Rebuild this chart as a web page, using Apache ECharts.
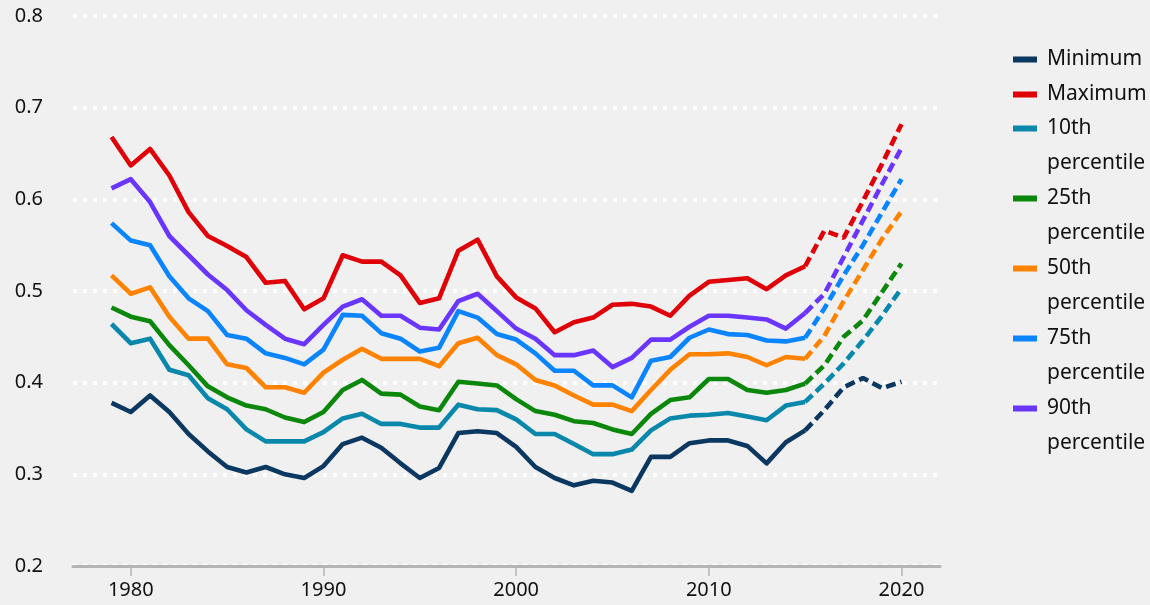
<!DOCTYPE html>
<html>
<head>
<meta charset="utf-8">
<script src="https://cdn.jsdelivr.net/npm/echarts@6/dist/echarts.min.js"></script>
<style>
  html, body { margin: 0; padding: 0; background: #f0f0f0; }
  #chart { width: 1150px; height: 605px; }
</style>
</head>
<body>
<div id="chart"></div>
<script>
const years = [];
for (let y = 1979; y <= 2020; y++) years.push(y);
const projectionStart = 2015;
const xTickYears = [1980, 1990, 2000, 2010, 2020];
const yTicks = [0.2, 0.3, 0.4, 0.5, 0.6, 0.7, 0.8];

const minimum = [0.378,0.368,0.386,0.368,0.344,0.325,0.308,0.302,0.308,0.300,
  0.296,0.309,0.333,0.340,0.329,0.312,0.296,0.307,0.345,0.347,
  0.345,0.330,0.308,0.296,0.288,0.293,0.291,0.282,0.319,0.319,
  0.334,0.337,0.337,0.331,0.312,0.335,0.348,0.370,0.395,0.405,
  0.394,0.401];
const maximum = [0.668,0.637,0.655,0.626,0.586,0.560,0.549,0.537,0.509,0.511,
  0.480,0.492,0.539,0.532,0.532,0.517,0.487,0.492,0.544,0.556,
  0.516,0.493,0.481,0.455,0.466,0.471,0.485,0.486,0.483,0.473,
  0.495,0.510,0.512,0.514,0.502,0.517,0.527,0.566,0.558,0.598,
  0.639,0.682];
const p10 = [0.464,0.443,0.448,0.414,0.408,0.383,0.371,0.349,0.336,0.336,
  0.336,0.346,0.361,0.366,0.355,0.355,0.351,0.351,0.376,0.371,
  0.370,0.360,0.344,0.344,0.333,0.322,0.322,0.327,0.348,0.361,
  0.364,0.365,0.367,0.363,0.359,0.375,0.379,0.399,0.421,0.446,
  0.473,0.503];
const p25 = [0.482,0.472,0.467,0.441,0.419,0.396,0.384,0.375,0.371,0.362,
  0.357,0.368,0.392,0.403,0.388,0.387,0.374,0.370,0.401,0.399,
  0.397,0.382,0.369,0.365,0.358,0.356,0.349,0.344,0.366,0.381,
  0.384,0.404,0.404,0.392,0.389,0.392,0.399,0.419,0.450,0.468,
  0.499,0.530];
const p50 = [0.517,0.497,0.504,0.472,0.448,0.448,0.420,0.416,0.395,0.395,
  0.389,0.411,0.425,0.437,0.426,0.426,0.426,0.418,0.443,0.449,
  0.430,0.420,0.403,0.397,0.386,0.376,0.376,0.369,0.392,0.414,
  0.431,0.431,0.432,0.428,0.419,0.428,0.426,0.451,0.489,0.523,
  0.557,0.587];
const p75 = [0.574,0.555,0.550,0.516,0.492,0.478,0.452,0.448,0.432,0.427,
  0.420,0.436,0.474,0.473,0.454,0.448,0.434,0.438,0.478,0.471,
  0.453,0.447,0.432,0.413,0.413,0.397,0.397,0.384,0.424,0.428,
  0.449,0.458,0.453,0.452,0.446,0.445,0.449,0.481,0.517,0.550,
  0.586,0.622];
const p90 = [0.612,0.622,0.597,0.560,0.539,0.518,0.501,0.479,0.463,0.448,
  0.442,0.463,0.483,0.491,0.473,0.473,0.460,0.458,0.489,0.497,
  0.478,0.459,0.448,0.430,0.430,0.435,0.417,0.427,0.447,0.447,
  0.461,0.473,0.473,0.471,0.469,0.459,0.476,0.497,0.537,0.577,
  0.617,0.656];

const seriesNames = ['Minimum', 'Maximum', '10th\npercentile', '25th\npercentile',
  '50th\npercentile', '75th\npercentile', '90th\npercentile'];
const seriesValues = [minimum, maximum, p10, p25, p50, p75, p90];
const seriesColors = ['#0b3861', '#e00008', '#0a88ab', '#0b880b', '#ff8200', '#0a85ff', '#6a35ff'];

const FONT = 'Noto Sans';
const series = [];
seriesNames.forEach((name, i) => {
  const vals = seriesValues[i];
  const solid = [], dashed = [];
  years.forEach((yr, k) => {
    if (yr <= projectionStart) solid.push([yr, vals[k]]);
    if (yr >= projectionStart) dashed.push([yr, vals[k]]);
  });
  series.push({
    name: name, type: 'line', data: solid, showSymbol: false, symbol: 'none',
    color: seriesColors[i], z: 3,
    lineStyle: { width: 4.6, color: seriesColors[i], join: 'round', cap: 'butt' },
    emphasis: { disabled: true }
  });
  series.push({
    name: name + ' (projection)', type: 'line', data: dashed, showSymbol: false, symbol: 'none',
    color: seriesColors[i], z: 2,
    lineStyle: { width: 4.6, color: seriesColors[i], type: [10, 5], cap: 'butt' },
    emphasis: { disabled: true }
  });
});

const chart = echarts.init(document.getElementById('chart'), null, { renderer: 'canvas' });
chart.setOption({
  backgroundColor: '#f0f0f0',
  animation: false,
  textStyle: { fontFamily: FONT },
  legend: [
    {
      data: seriesNames.slice(0, 2),
      orient: 'vertical', left: 1013, top: 42, padding: 0,
      itemWidth: 24, itemHeight: 6, itemGap: 0,
      icon: 'rect', selectedMode: false,
      textStyle: { fontFamily: FONT, fontSize: 21, color: '#111', lineHeight: 35, padding: [0, 0, 0, 5] }
    },
    {
      data: seriesNames.slice(2),
      orient: 'vertical', left: 1013, top: 76, padding: 0,
      itemWidth: 24, itemHeight: 6, itemGap: -35,
      icon: 'rect', selectedMode: false,
      formatter: name => '\n' + name,
      textStyle: { fontFamily: FONT, fontSize: 21, color: '#111', lineHeight: 35,
        padding: [0, 0, 0, 5], backgroundColor: 'rgba(0,0,0,0)' }
    }
  ],
  grid: { left: 73, right: 210, top: 16, bottom: 39, containLabel: false },
  xAxis: {
    type: 'value', min: 1977, max: 2022,
    axisLine: { show: true, lineStyle: { color: '#b4b4b4', width: 3 } },
    axisTick: { show: true, customValues: xTickYears, length: 10, inside: false,
      lineStyle: { color: '#b4b4b4', width: 1.5 } },
    axisLabel: { customValues: xTickYears, margin: 14, fontSize: 20, color: '#111',
      fontFamily: FONT, formatter: v => String(v) },
    splitLine: { show: false }
  },
  yAxis: {
    type: 'value', min: yTicks[0], max: yTicks[yTicks.length - 1], interval: 0.1,
    axisLine: { show: false }, axisTick: { show: false },
    axisLabel: { margin: 30, fontSize: 20, color: '#111', fontFamily: FONT,
      formatter: v => v.toFixed(1) },
    splitLine: { show: true, lineStyle: { color: '#ffffff', width: 4, type: [4, 6] } }
  },
  series: series
});
</script>
</body>
</html>
